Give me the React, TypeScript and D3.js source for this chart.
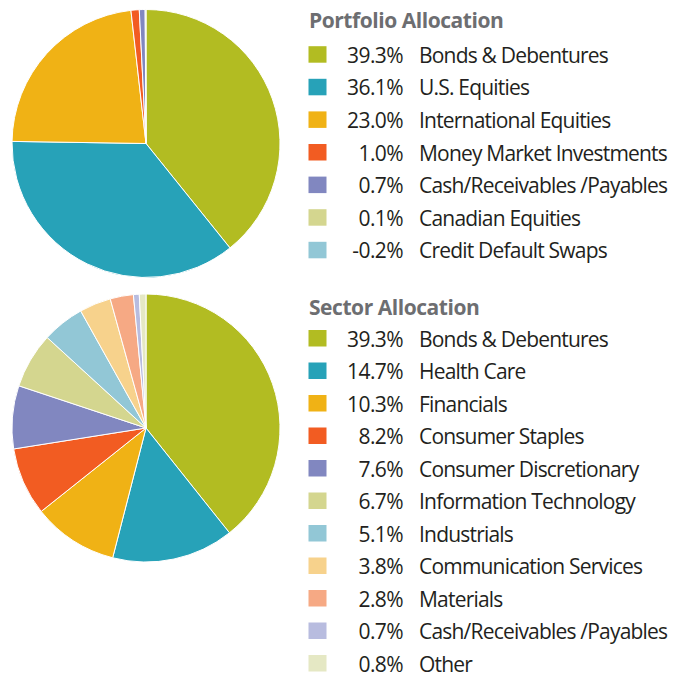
import React from "react";
import * as d3 from "d3";

const portfolioTitle = "Portfolio Allocation";
const portfolioLabels = [
  "Bonds & Debentures",
  "U.S. Equities",
  "International Equities",
  "Money Market Investments",
  "Cash/Receivables /Payables",
  "Canadian Equities",
  "Credit Default Swaps",
];
const portfolioValues = [39.3, 36.1, 23.0, 1.0, 0.7, 0.1, -0.2];
const portfolioColors = ["#b2bc22", "#27a2b8", "#f0b215", "#f25c22", "#8187c0", "#d4d68f", "#92c7d6"];

const sectorTitle = "Sector Allocation";
const sectorLabels = [
  "Bonds & Debentures",
  "Health Care",
  "Financials",
  "Consumer Staples",
  "Consumer Discretionary",
  "Information Technology",
  "Industrials",
  "Communication Services",
  "Materials",
  "Cash/Receivables /Payables",
  "Other",
];
const sectorValues = [39.3, 14.7, 10.3, 8.2, 7.6, 6.7, 5.1, 3.8, 2.8, 0.7, 0.8];
const sectorColors = [
  "#b2bc22", "#27a2b8", "#f0b215", "#f25c22", "#8187c0", "#d4d68f",
  "#92c7d6", "#f7d28c", "#f6a984", "#b8bcdf", "#e5e8c4",
];

const FONT = "'Open Sans', 'Noto Sans', sans-serif";

type PanelProps = {
  title: string;
  labels: string[];
  values: number[];
  colors: string[];
  cx: number;
  cy: number;
  r: number;
  titleY: number;
  firstRowY: number;
  rowStep: number;
};

function Panel({ title, labels, values, colors, cx, cy, r, titleY, firstRowY, rowStep }: PanelProps) {
  const pie = d3.pie<number>().sort(null).value((d) => Math.max(0, d));
  const arcs = pie(values);
  const arc = d3.arc<d3.PieArcDatum<number>>().innerRadius(0).outerRadius(r);
  return (
    <g>
      <g transform={`translate(${cx},${cy})`}>
        {arcs.map((a, i) =>
          a.value > 0 ? (
            <path key={i} d={arc(a) || ""} fill={colors[i]} stroke="#ffffff" strokeWidth={1} />
          ) : null
        )}
      </g>
      <text x={309} y={titleY} fontFamily={FONT} fontWeight={700} fontSize={21} letterSpacing={-0.45} fill="#6d6e71">
        {title}
      </text>
      {labels.map((l, i) => {
        const y = firstRowY + i * rowStep;
        return (
          <g key={i}>
            <rect x={308.5} y={y - 16.5} width={18} height={16.5} fill={colors[i]} />
            <text x={403} y={y} textAnchor="end" fontFamily={FONT} fontSize={21} letterSpacing={-0.6} fill="#231f20">
              {values[i].toFixed(1) + "%"}
            </text>
            <text x={419} y={y} fontFamily={FONT} fontSize={21} letterSpacing={-0.8} fill="#231f20">
              {l}
            </text>
          </g>
        );
      })}
    </g>
  );
}

export default function App() {
  return (
    <svg
      width={683}
      height={677}
      style={{ position: "absolute", left: 0, top: 0, background: "#ffffff" }}
    >
      <Panel
        title={portfolioTitle}
        labels={portfolioLabels}
        values={portfolioValues}
        colors={portfolioColors}
        cx={146}
        cy={143.5}
        r={134}
        titleY={28.3}
        firstRowY={62.7}
        rowStep={32.6}
      />
      <Panel
        title={sectorTitle}
        labels={sectorLabels}
        values={sectorValues}
        colors={sectorColors}
        cx={146}
        cy={428}
        r={134}
        titleY={315}
        firstRowY={346.5}
        rowStep={32.5}
      />
    </svg>
  );
}
